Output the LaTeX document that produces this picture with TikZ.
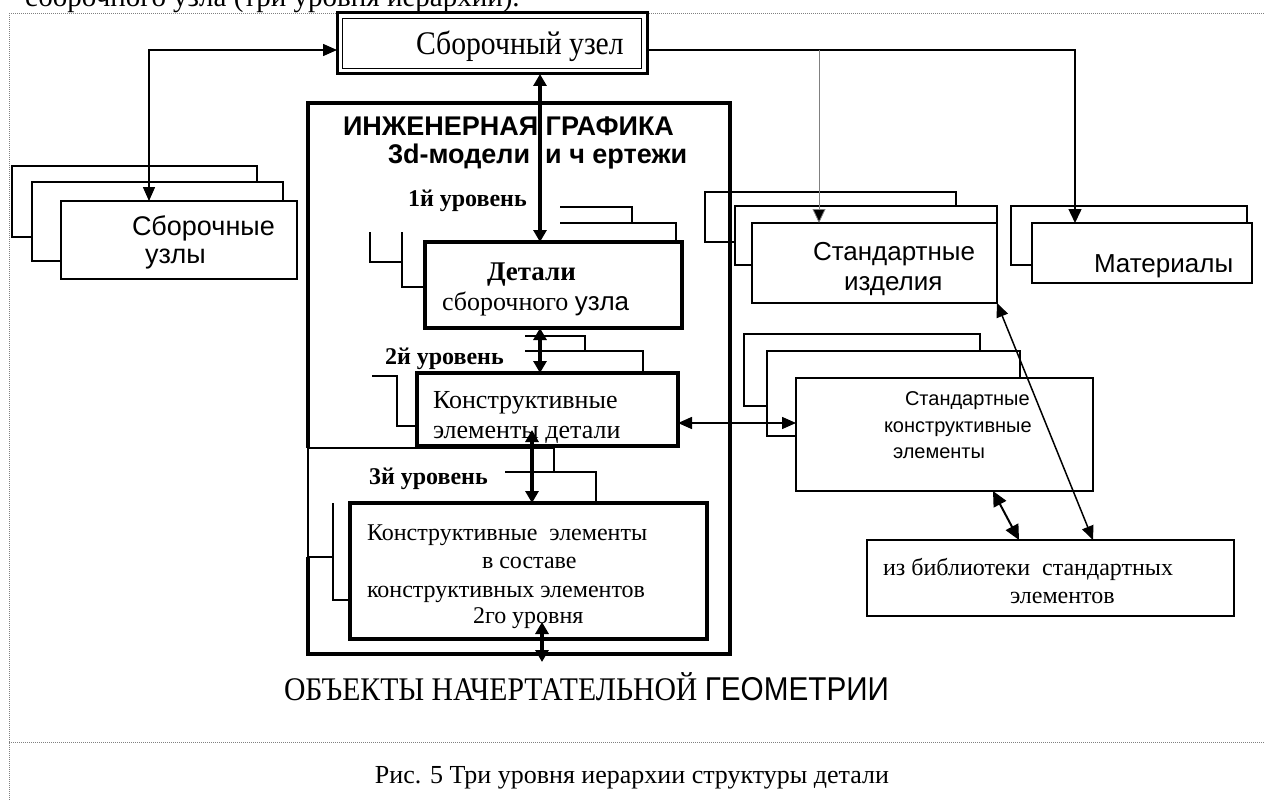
\documentclass[tikz,border=0pt]{standalone}
\usepackage{fontspec}
\setmainfont{Liberation Serif}
\setsansfont{Liberation Sans}
\newfontfamily\condserif{Liberation Serif}[FakeStretch=0.9]
\newfontfamily\condsans{Liberation Sans}[FakeStretch=0.9]
\usetikzlibrary{arrows.meta}
\begin{document}
\begin{tikzpicture}[x=1pt,y=-1pt,
  thinbox/.style={draw,line width=1.5pt,fill=white,inner sep=0pt,outer sep=0pt,anchor=north west},
  thickbox/.style={draw,line width=4.5pt,fill=white,inner sep=0pt,outer sep=0pt,anchor=north west},
  bk/.style={line width=1.3pt},
  txt/.style={inner sep=0pt,outer sep=0pt,anchor=base west},
  fs/.style={font=\fontsize{#1}{#1}\selectfont},
  fsb/.style={font=\fontsize{#1}{#1}\selectfont\bfseries},
  fss/.style={font=\fontsize{#1}{#1}\selectfont\sffamily},
  fssb/.style={font=\fontsize{#1}{#1}\selectfont\sffamily\bfseries},
  fsc/.style={font=\fontsize{#1}{#1}\selectfont\condserif},
  thinarrow/.style={line width=1.5pt,-{Triangle[length=14pt,width=13pt]}},
  dblarrow/.style={line width=1.5pt,{Triangle[length=14pt,width=12pt]}-{Triangle[length=14pt,width=12pt]}},
  thickarrow/.style={line width=3.5pt,{Triangle[length=12pt,width=13pt]}-{Triangle[length=12pt,width=13pt]}},
  frame/.style={gray,line width=1pt,dash pattern=on 1pt off 1pt}
]
\useasboundingbox (0,0) rectangle (1264,800);

% frame
\draw[frame] (9,800) -- (9,14) -- (1264,14);
\draw[frame] (9,742) -- (1264,742);

% cut-off text at top
\node[txt,fs=29] (toptext) at (25,7) {сборочного узла (три уровня иерархии).};

% Сборочные узлы
\node[thinbox,minimum width=245pt,minimum height=71pt] (su1) at (12,166) {};
\node[thinbox,minimum width=251pt,minimum height=79pt] (su2) at (32,182) {};
\node[thinbox,minimum width=236pt,minimum height=78pt] (su3) at (61,201) {};

% Стандартные изделия
\node[thinbox,minimum width=251pt,minimum height=50pt] (si1) at (705,192) {};
\node[thinbox,minimum width=262pt,minimum height=59pt] (si2) at (735,206) {};
\node[thinbox,minimum width=245pt,minimum height=80pt] (si3) at (752,223) {};

% Материалы
\node[thinbox,minimum width=236pt,minimum height=59pt] (ma1) at (1011,206) {};
\node[thinbox,minimum width=220pt,minimum height=60pt] (ma2) at (1032,223) {};

% Сборочный узел (double frame)
\node[draw,line width=3pt,fill=white,inner sep=0pt,outer sep=0pt,anchor=north west,
      minimum width=310pt,minimum height=61pt] (uz) at (337,13) {};
\draw[line width=1.5pt] ([xshift=5.5pt,yshift=-5.5pt]uz.north west) rectangle ([xshift=-5.5pt,yshift=5.5pt]uz.south east);

% big box
\node[draw,line width=4.5pt,inner sep=0pt,outer sep=0pt,anchor=north west,
      minimum width=422pt,minimum height=551pt] (big) at (308,103) {};

% level 3 back boxes
\fill[white] (305,448) rectangle (554,557);
\draw[bk] (308,557) -- (308,448) -- (554,448) -- (554,472);
\draw[bk] (308,557) -- (333,557);
\draw[bk] (505,472) -- (596,472) -- (596,503);
\draw[bk] (333,503) -- (333,600) -- (350,600);

% level 1 back lines
\draw[bk] (370,232) -- (370,262) -- (402,262);
\draw[bk] (402,232) -- (402,287) -- (425,287);
\draw[bk] (560,207) -- (632,207) -- (632,223);
\draw[bk] (560,223) -- (676,223) -- (676,242);

% level 2 back lines
\draw[bk] (372,376) -- (397,376) -- (397,426) -- (417,426);
\draw[bk] (525,336) -- (585,336) -- (585,351);
\draw[bk] (525,351) -- (643,351) -- (643,373);

% thick boxes
\node[thickbox,minimum width=257pt,minimum height=86pt] (det) at (425,242) {};
\node[thickbox,minimum width=261pt,minimum height=73pt] (kon) at (417,373) {};
\node[thickbox,minimum width=357pt,minimum height=136pt] (l3) at (350,503) {};

% Стандартные конструктивные элементы
\node[thinbox,minimum width=236pt,minimum height=72pt] (sk1) at (744,334) {};
\node[thinbox,minimum width=253pt,minimum height=85pt] (sk2) at (767,351) {};
\node[thinbox,minimum width=297pt,minimum height=113pt] (sk3) at (796,378) {};

% library
\node[thinbox,minimum width=367pt,minimum height=76pt] (lib) at (867,540) {};

% texts
\node[txt,fsc=33] (uzT) at (416,55) {Сборочный узел};
\node[txt,fss=27] (suT1) at (132,235) {Сборочные};
\node[txt,fss=27] (suT2) at (145,263) {узлы};
\node[txt,fssb=27] (ti1) at (343,135) {ИНЖЕНЕРНАЯ ГРАФИКА};
\node[txt,fssb=27] (ti2) at (388,163) {3d-модели\hspace{15pt}и ч ертежи};
\node[txt,fsb=24] (lv1) at (408,206) {1й уровень};
\node[txt,fsb=27] (detT1) at (487,280) {Детали};
\node[txt,fs=26] (detT2) at (442,310) {сборочного {\sffamily узла}};
\node[txt,fsb=24] (lv2) at (385,364) {2й уровень};
\node[txt,fs=26] (konT1) at (433,408) {Конструктивные};
\node[txt,fs=26] (konT2) at (433,438) {элементы детали};
\node[txt,fsb=24] (lv3) at (369,484) {3й уровень};
\node[txt,fs=24] (l3T1) at (367,540) {Конструктивные\ \ элементы};
\node[txt,fs=24] (l3T2) at (482,568) {в составе};
\node[txt,fs=24] (l3T3) at (367,597) {конструктивных элементов};
\node[txt,fs=24] (l3T4) at (473,623) {2го уровня};
\node[txt,fss=26] (siT1) at (813,260) {Стандартные};
\node[txt,fss=26] (siT2) at (844,290) {изделия};
\node[txt,fss=26] (maT) at (1094,272) {Материалы};
\node[txt,fss=20] (skT1) at (905,405) {Стандартные};
\node[txt,fss=20] (skT2) at (884,432) {конструктивные};
\node[txt,fss=20] (skT3) at (893,458) {элементы};
\node[txt,fs=24] (libT1) at (883,575) {из библиотеки\ \ стандартных};
\node[txt,fs=24] (libT2) at (1010,603) {элементов};
\node[txt,fsc=33] (obj) at (284,700) {ОБЪЕКТЫ НАЧЕРТАТЕЛЬНОЙ {\condsans ГЕОМЕТРИИ}};
\node[inner sep=0pt,anchor=base,fs=26] (cap) at (632,783) {Рис. 5 Три уровня иерархии структуры детали};

% coordinates
\coordinate (cL) at (149,50);
\coordinate (cR) at (1075,50);
\coordinate (cM) at (819,50);
\coordinate (ax) at (540,0);
\coordinate (ax3) at (532,430);
\coordinate (axb1) at (542,622);
\coordinate (axb2) at (542,662);
\coordinate (ks) at (0,423);
\coordinate (libA) at (1093,540);
\coordinate (libB) at (1019,540);
\coordinate (skB) at (993,491);

% connectors
\draw[dblarrow] (su3.north -| cL) -- (cL) -- (cL -| uz.west);
\draw[thinarrow] (cL -| uz.east) -- (cR) -- (ma2.north -| cR);
\draw[line width=0.8pt,gray,-{Triangle[length=14pt,width=13pt,fill=black]}] (cM) -- (si3.north -| cM);
\draw[thickarrow] (det.north -| ax) -- (uz.south -| ax);
\draw[thickarrow] (det.south -| ax) -- (kon.north -| ax);
\draw[thickarrow] (l3.north -| ax3) -- (ax3);
\draw[thickarrow] (axb1) -- (axb2);
\draw[dblarrow] (kon.east |- ks) -- (sk3.west |- ks);
\draw[dblarrow] (si3.south east) -- (libA);
\draw[line width=2pt,{Triangle[length=15pt,width=14pt]}-{Triangle[length=15pt,width=14pt]}] (skB) -- (libB);
\end{tikzpicture}
\end{document}
